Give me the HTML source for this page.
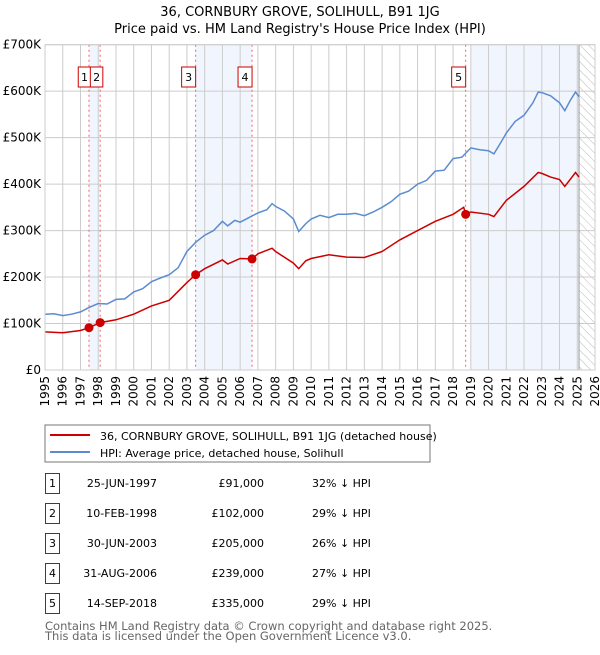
<!DOCTYPE html>
<html><head><meta charset="utf-8"><style>
body{margin:0;background:#fff;font-family:"Liberation Sans","DejaVu Sans",sans-serif;}
svg text{font-family:"DejaVu Sans","Liberation Sans",sans-serif;}
</style></head><body>
<svg id="c" width="600" height="650" xmlns="http://www.w3.org/2000/svg">
<defs><pattern id="hatch" width="6" height="6" patternUnits="userSpaceOnUse" patternTransform="rotate(-45)"><line x1="0" y1="0" x2="0" y2="6" stroke="#bbb" stroke-width="1"/></pattern></defs>
<text x="300" y="16" text-anchor="middle" font-size="13">36, CORNBURY GROVE, SOLIHULL, B91 1JG</text>
<text x="300" y="33" text-anchor="middle" font-size="13">Price paid vs. HM Land Registry's House Price Index (HPI)</text>
<g id="plot"></g>
<rect x="45" y="425" width="385" height="37" fill="#fff" stroke="#777"/>
<line x1="50" y1="435" x2="90" y2="435" stroke="#cc0000" stroke-width="2"/>
<text x="100" y="440" font-size="11">36, CORNBURY GROVE, SOLIHULL, B91 1JG (detached house)</text>
<line x1="50" y1="452" x2="90" y2="452" stroke="#5b8bd0" stroke-width="2"/>
<text x="100" y="457" font-size="11">HPI: Average price, detached house, Solihull</text>
<g id="table"></g>
<text x="45" y="630" font-size="11.5" fill="#666">Contains HM Land Registry data © Crown copyright and database right 2025.</text>
<text x="45" y="640" font-size="11.5" fill="#666">This data is licensed under the Open Government Licence v3.0.</text>
</svg>
<script>
const hpiT=[1995,1995.5,1996,1996.5,1997,1997.5,1998,1998.5,1999,1999.5,2000,2000.5,2001,2001.5,2002,2002.5,2003,2003.5,2004,2004.5,2005,2005.3,2005.7,2006,2006.5,2007,2007.5,2007.8,2008,2008.5,2009,2009.3,2009.7,2010,2010.5,2011,2011.5,2012,2012.5,2013,2013.5,2014,2014.5,2015,2015.5,2016,2016.5,2017,2017.5,2018,2018.5,2019,2019.5,2020,2020.3,2020.7,2021,2021.5,2022,2022.5,2022.8,2023,2023.5,2024,2024.3,2024.6,2024.9,2025.1];
const hpiV=[120,121,117,120,125,135,143,142,152,153,168,175,190,198,205,220,255,275,290,300,320,310,322,318,328,338,345,358,352,342,325,298,315,325,333,328,335,335,337,332,340,350,362,378,385,400,408,428,430,455,458,478,474,472,465,490,510,535,548,575,598,597,590,575,558,580,598,588];
const ppT=[1995,1996,1997,1997.48,1998.11,1999,2000,2001,2002,2003,2003.49,2004,2005,2005.3,2006,2006.67,2007,2007.8,2008,2009,2009.3,2009.7,2010,2011,2012,2013,2014,2015,2016,2017,2018,2018.6,2018.71,2019,2020,2020.3,2021,2022,2022.8,2023,2023.5,2024,2024.3,2024.9,2025.1];
const ppV=[82,80,85,91,102,108,120,138,150,188,205,218,237,228,240,239,250,262,255,230,218,235,240,248,243,242,255,280,300,320,335,350,335,340,335,330,365,395,425,423,415,410,395,425,415];
const saleLabels=["1","2","3","4","5"];
const saleT=[1997.48,1998.11,2003.49,2006.67,2018.71];
const saleV=[91,102,205,239,335];
const saleDates=["25-JUN-1997","10-FEB-1998","30-JUN-2003","31-AUG-2006","14-SEP-2018"];
const salePrices=["£91,000","£102,000","£205,000","£239,000","£335,000"];
const saleHpi=["32% ↓ HPI","29% ↓ HPI","26% ↓ HPI","27% ↓ HPI","29% ↓ HPI"];
const yTicks=[0,100,200,300,400,500,600,700];
const yLabels=["£0","£100K","£200K","£300K","£400K","£500K","£600K","£700K"];
const xYears=[];for(let y=1995;y<=2026;y++)xYears.push(y);
const NS="http://www.w3.org/2000/svg";
const X0=45,X1=595,Y0=370,Y1=44.7;
const x=t=>X0+(t-1995)/(2026-1995)*(X1-X0);
const y=v=>Y0-v/700*(Y0-Y1);
const g=document.getElementById('plot');
function mk(tag,at,parent){const e=document.createElementNS(NS,tag);for(const k in at)e.setAttribute(k,at[k]);(parent||g).appendChild(e);return e;}
let e;
e=mk('rect',{x:x(saleT[0]),y:Y1,width:x(saleT[1])-x(saleT[0]),height:Y0-Y1,fill:'#eef3fc',opacity:0.8});


e=mk('rect',{x:x(saleT[2]),y:Y1,width:x(saleT[3])-x(saleT[2]),height:Y0-Y1,fill:'#eef3fc',opacity:0.8});


e=mk('rect',{x:x(2019),y:Y1,width:x(2025.1)-x(2019),height:Y0-Y1,fill:'#eef3fc',opacity:0.8});


e=mk('rect',{x:x(2025.1),y:Y1,width:X1-x(2025.1),height:Y0-Y1,fill:'url(#hatch)'});


xYears.forEach(t=>{e=mk('line',{x1:x(t),x2:x(t),y1:Y1,y2:Y0,stroke:'#ccc','stroke-width':1});


e=mk('text',{x:0,y:0,'font-size':12,'text-anchor':'end',transform:`translate(${x(t)+4},${Y0+6}) rotate(-90)`});e.textContent=t;

});
yTicks.forEach((v,i)=>{e=mk('line',{x1:X0,x2:X1,y1:y(v),y2:y(v),stroke:'#ccc','stroke-width':1});


e=mk('text',{x:X0-4,y:y(v)+4,'font-size':12,'text-anchor':'end'});e.textContent=yLabels[i];

});
e=mk('line',{x1:x(2025.1),x2:x(2025.1),y1:Y1,y2:Y0,stroke:'#999','stroke-width':1});


saleT.forEach((t,i)=>{e=mk('line',{x1:x(t),x2:x(t),y1:Y1,y2:Y0,stroke:'#e66','stroke-width':1,'stroke-dasharray':'2,3'});

});
const pts=(T,V)=>T.map((t,i)=>x(t).toFixed(1)+','+y(V[i]).toFixed(1)).join(' ');
e=mk('polyline',{points:pts(hpiT,hpiV),fill:'none',stroke:'#5b8bd0','stroke-width':1.5});


e=mk('polyline',{points:pts(ppT,ppV),fill:'none',stroke:'#cc0000','stroke-width':1.5});


saleT.forEach((t,i)=>{e=mk('circle',{cx:x(t),cy:y(saleV[i]),r:4.5,fill:'#cc0000'});


const lx=(i===0)?x(t)-4.5:(i===1?x(t)-3.6:x(t)-7);
const w=(i<2)?12.5:14;
e=mk('rect',{x:lx-w/2,y:67,width:w,height:20,fill:'#fff',stroke:'#cc0000'});


e=mk('text',{x:lx,y:81,'font-size':11,'text-anchor':'middle'});e.textContent=saleLabels[i];

});
e=mk('rect',{x:X0,y:Y1,width:X1-X0,height:Y0-Y1,fill:'none',stroke:'#ccc'});
const tb=document.getElementById('table');
saleLabels.forEach((s,i)=>{const cy=483+i*30;
e=mk('rect',{x:45.5,y:cy-9.5,width:14,height:20,fill:'#fff',stroke:'#cc0000'},tb);


e=mk('text',{x:52.5,y:cy+4,'font-size':11,'text-anchor':'middle'},tb);e.textContent=s;


e=mk('text',{x:157,y:cy+4,'font-size':11,'text-anchor':'end'},tb);e.textContent=saleDates[i];


e=mk('text',{x:264,y:cy+4,'font-size':11,'text-anchor':'end'},tb);e.textContent=salePrices[i];


e=mk('text',{x:312,y:cy+4,'font-size':11},tb);e.textContent=saleHpi[i];

});
</script>
</body></html>
